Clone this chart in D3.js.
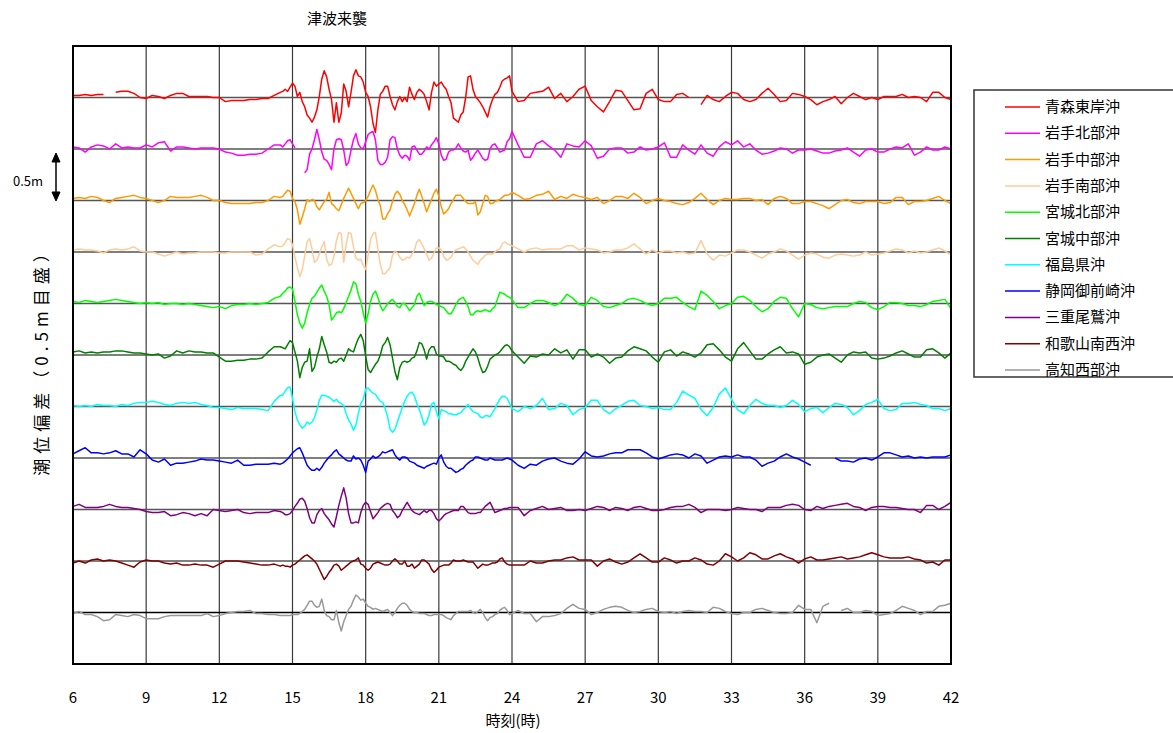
<!DOCTYPE html>
<html>
<head>
<meta charset="utf-8">
<script src="https://cdn.jsdelivr.net/npm/d3@7"></script>
<style>
  body { margin: 0; background: #fff; }
  text { font-family: "Noto Sans CJK JP", "Noto Sans", sans-serif; fill: #000; }
</style>
</head>
<body>
<div id="chart"></div>
<script>
// Time axis (hours). Finer sampling while the tsunami arrives.
const TIME_SEGMENTS = [[6, 14.5, 0.25], [14.6, 24, 0.1], [24.25, 42, 0.25]];
const times = [];
TIME_SEGMENTS.forEach(([from, to, step]) => {
    const n = Math.round((to - from) / step);
    for (let i = 0; i <= n; i++) times.push(+(from + i * step).toFixed(2));
});

const xTicks = [6, 9, 12, 15, 18, 21, 24, 27, 30, 33, 36, 39, 42];

const stations = ["青森東岸沖", "岩手北部沖", "岩手中部沖", "岩手南部沖", "宮城北部沖", "宮城中部沖",
                  "福島県沖", "静岡御前崎沖", "三重尾鷲沖", "和歌山南西沖", "高知西部沖"];
const colors = ["#ff0000", "#ff00ff", "#ff9900", "#ffcc99", "#00ff00", "#008000",
                "#00ffff", "#0000ff", "#800080", "#800000", "#999999"];

// Tide deviation (cm) of each station.
const aomori = [
    2,2,3,2,3,3,null,5,6,6,4,0,-1,2,1,-1,2,4,4,1,1,1,1,0,0,-4,-3,-3,-3,-2,-2,-1,-1,2,5,
    6,8,6,10,14,11,1,5,-4,-9, -17,-20,-24,-19,-12,1,18,26,20,8, -2,-24,-5,-24,-15,13,6,-9,5,21,
    27,21,20,15,5,1,-9,-25,-34,-12, 3,6,11,11,1,-7,-12,-4,1,-4, 0,-4,10,3,-2,5,8,6,3,-4,
    -12,5,15,11,13,15,11,8,1,-5, -20,-22,-24,-17,-14,0,20,21,8,1, -2,-5,-9,-14,-19,-9,-2,3,5,10, 16,18,19,21,6,
    -4,-3,4,5,6,10,-1,4,-4,1, 8,11,-3,-9,-14,-4,7,6,-3,-12, -11,4,8,-2,-4,-4,3,4,0,null,
    -7,2,-2,-4,1,5,4,-2,-4,-2, 4,9,3,-4,-3,4,3,1,-2,-7, -4,-2,1,-6,0,4,1,-2,0,-2, 1,1,1,3,0,1,0,-4,5,5, 0,-2
];
const iwateNorth = [
    2,1,-3,2,4,3,0,5,1,2,1,1,4,2,6,7,-2,2,2,1,0,1,1,1,0,-3,-4,-6,-6,-5,-5,-4,0,4,4,
    2,5,8,9,5,1,null,null,null,-23, -20,-5,0,9,19,9,-3,-10,-11,-15, -20,0,9,10,9,-1,-16,-13,-1,9,
    15,5,1,0,7,14,16,17,9,-11, -15,-15,-13,-8,9,12,11,0,-6,-9, -6,-7,-11,2,3,-1,-5,-5,-2,2,
    0,4,7,11,5,-6,-11,-10,-3,-1, -1,1,5,1,-2,-3,-1,-11,-8,-4, -1,-5,-9,-11,-10,0,4,5,1,-3, -2,-1,7,10,17,
    4,-8,-8,5,8,3,-1,-8,5,3, 2,8,3,-9,-7,0,1,1,-4,-3, 2,-1,0,2,6,-8,-8,4,-1,-5,
    4,-4,-7,2,7,4,8,2,5,-1, -5,-4,-2,1,0,-4,-1,-1,0,-2, -4,-4,-2,-1,1,-3,-7,-1,0,-3, -3,0,2,1,5,-6,-3,2,-1,-1, 2,0
];
const iwateMid = [
    2,3,2,4,3,0,-2,2,3,4,5,3,2,0,-2,0,4,3,3,3,4,5,3,0,0,-2,-3,-3,-3,-3,-2,-2,0,4,3,
    4,7,10,9,2,-1,-9,-23,-16,-8, 1,-1,1,0,-6,-9,-5,-1,1,8, -3,-5,-8,-10,-4,2,7,12,7,2,
    -3,-8,-3,-2,0,4,10,15,10,1, -5,-18,-18,-13,-9,-1,6,9,6,0, -4,-9,-15,-9,-3,5,11,4,-3,-11,
    -5,1,7,11,4,-6,-13,-11,-8,-3, 1,5,5,5,2,-1,-3,-3,-3,-1, -14,-11,-3,5,4,-3,-3,-1,0,1, 3,5,5,6,8,
    5,1,2,5,6,9,1,4,2,6, 4,3,1,3,-3,0,4,4,2,7, 3,-3,0,2,0,-1,-3,-4,-2,2,
    7,1,-4,0,2,1,1,2,2,0, 1,-4,2,4,2,-3,-3,-1,-1,-3, -5,-8,-4,0,1,-2,-3,-1,-1,-1, -3,-2,3,3,-4,-1,-1,0,2,4, 0,-3
];
const iwateSouth = [
    2,3,2,2,1,-1,2,3,2,3,5,1,0,0,-2,-4,-2,0,-2,-1,-1,0,0,0,-1,-1,0,0,0,0,-3,-2,3,7,5,
    6,9,13,12,7,-5,-15,-24,-17,-4, 10,13,3,-10,-8,-2,5,10,-7,-13, -12,-4,11,19,18,-10,7,19,18,5,
    -6,-8,-7,-13,-17,-3,12,18,19,3, -12,-21,-21,-18,-15,-3,1,-1,-5,-8, -7,-5,-6,-2,2,10,12,8,3,-2,
    -8,-6,-1,4,4,2,-4,-8,-7,-5, 0,2,3,4,5,3,0,-4,-8,-10, -12,-8,-6,-3,-2,-2,-2,0,2,3, 8,10,8,7,6,
    3,0,3,4,2,3,3,3,6,6, 2,4,3,2,-1,0,2,2,4,8, 3,-2,2,-1,1,1,-1,0,-2,-1,
    11,-2,-8,-3,-4,-1,2,2,0,-3, -6,-2,0,3,1,-3,-7,-3,-1,-2, -5,-6,-3,-2,-3,-4,-3,0,-3,-2, -1,1,3,2,-1,1,-1,0,2,4, 1,-3
];
const miyagiNorth = [
    2,1,3,2,1,2,3,4,3,2,1,0,1,0,1,-1,0,0,-1,0,-1,-2,-3,-4,-3,-5,-2,-1,-1,0,-1,0,1,5,7,
    10,12,15,16,14,2,-11,-19,-24,-19, -9,-1,5,7,11,15,18,12,7,-1, -16,-13,-9,-8,-9,-5,1,7,13,21,
    19,9,2,-9,-19,-10,2,9,12,6, -2,-7,-4,0,2,4,1,-3,-4,0, 0,-3,-7,-4,-1,7,10,4,-2,1,
    2,2,1,-1,-2,-3,-4,-7,-10,-10, -6,-1,3,5,6,2,-3,-11,-11,-8, -7,-8,-7,-6,-7,-8,-5,-3,4,11, 10,9,7,6,4,
    -4,-4,0,3,3,1,-2,1,9,5, -1,-2,6,3,-3,-4,-2,0,4,5, 3,0,-2,0,5,5,6,1,-3,-6,
    12,8,2,-5,-2,0,6,7,3,-3, -8,-5,2,6,5,-5,-13,0,-1,-4, -5,-4,-3,-3,-3,0,2,1,-4,-6, -3,1,1,0,-2,-2,-3,-1,2,3, 4,-5
];
const miyagiMid = [
    3,4,2,3,2,3,3,4,4,3,2,2,1,0,1,-3,-1,4,2,4,3,3,2,2,-2,-6,-6,-5,-5,-4,-4,-3,3,8,8,
    7,6,10,14,12,3,-6,-22,-12,-7, -6,6,-16,-12,-2,6,18,10,3,-7, -8,-6,-7,-4,-3,-6,0,6,4,3,
    10,16,20,14,-1,-14,-17,-13,-9,-6, 0,9,12,17,10,-3,-16,-24,-12,-7, -6,-7,-6,-3,-2,4,12,11,5,-4,
    5,8,8,1,-1,-1,-2,-6,-6,-7, -9,-10,-13,-15,-12,-6,-2,2,6,3, -3,-11,-17,-16,-11,-4,-2,0,1,3, 6,9,10,8,4,
    -2,-8,-1,-2,1,0,6,2,5,-4, 5,5,-2,1,-2,-8,-3,-2,4,8, 6,4,-2,-7,3,5,-1,3,1,-2,
    2,10,11,5,-2,-6,6,12,4,-4, -4,1,5,8,2,3,1,-9,-7,-2, 0,1,-3,-7,0,3,2,3,-3,-4, -3,-1,2,4,1,-2,-2,5,6,2, -3,2
];
const fukushima = [
    1,0,1,0,2,1,1,0,2,1,3,4,4,5,4,2,1,3,4,3,4,2,1,-1,-1,-2,-3,-1,-2,-2,-2,-3,-4,5,11,
    11,15,18,19,8,-5,-13,-18,-21,-19, -15,-17,-15,-11,-3,6,11,11,10,9, 7,5,7,4,3,1,-7,-13,-17,-23,
    -18,-7,3,7,17,18,15,13,12,8, 5,4,-2,-10,-22,-25,-22,-15,-8,-1, 5,10,13,14,10,3,-3,-10,-18,-15,
    -8,2,4,-5,-12,-3,-4,-5,-7,-7, -8,-8,-7,-6,-3,-1,2,-2,-5,-6, -7,-10,-11,-9,-9,-10,-6,-2,3,7, 10,10,8,3,-2,
    -5,0,-2,1,8,-3,-2,3,1,-8, -3,-1,6,6,-3,-7,-2,1,5,6, 1,0,-2,-1,-3,-3,4,15,11,8,
    -3,-9,-1,12,18,7,-3,-7,1,7, 3,1,1,-1,1,6,2,-5,-2,-1, -6,-1,3,2,-1,-8,-4,2,4,7, -2,-4,-3,3,3,4,2,1,-2,-2, -4,-2
];
const omaezaki = [
    4,7,10,5,5,4,5,7,4,4,1,8,4,-2,-4,-1,-7,-5,-5,-4,-3,-1,-2,-2,-3,-4,-5,-2,-7,-7,-6,-6,-6,-5,-6,
    -5,-3,-1,2,5,7,9,10,5,-1, -7,-10,-12,-12,-10,-12,-9,-5,-2,1, 3,6,8,4,2,0,-2,-3,-3,2,
    -1,0,-2,-7,-14,-3,-1,2,0,1, 3,6,5,6,7,8,3,0,-2,1, 1,0,-3,-4,-5,-7,-8,-9,-10,-8,
    -7,-6,-5,-6,0,3,-4,-8,-10,-10, -12,-14,-13,-11,-10,-7,-5,-3,-2,1, 1,0,-1,-2,-2,0,-1,-2,-2,-2, -2,-1,0,-1,-2,
    -7,-10,-6,-7,-3,-1,0,-3,-5,-6, -1,6,2,1,2,4,5,5,8,8, 8,5,1,-1,1,3,4,3,0,4,
    2,-5,-2,1,2,1,3,1,1,-2, -8,-5,-3,1,4,1,-1,-4,-7,null, null,null,0,-3,-3,-4,-1,0,-2,1, 5,5,3,1,2,0,1,0,1,1, 1,3
];
const owase = [
    3,5,2,2,2,3,5,3,2,2,1,0,-2,-3,-3,-2,-6,-5,-3,-4,-6,-4,-6,0,-1,-2,-1,0,-3,-4,-3,-3,-3,-1,-2,
    -3,-5,-5,-4,-1,3,6,10,11,8, 1,-8,-13,-13,-5,-1,1,-4,-7,-10, -14,-17,-7,4,13,21,11,-4,-13,-13,
    -12,-13,-3,4,7,5,-2,-9,-6,-3, 1,3,5,6,5,-1,-4,-8,-6,-1, 3,7,3,-1,-3,-4,-5,-3,-1,-3,
    -1,-1,-4,-9,-11,-9,-6,-4,-3,-2, -1,-1,-1,3,3,0,-3,-4,-4,-4, -3,-3,0,3,5,7,2,-3,-2,-1, 0,1,1,2,2,
    2,-6,-1,1,3,0,1,2,-1,-1, 0,-1,1,3,2,-1,2,1,-1,2, 3,1,-1,-1,0,2,3,3,5,2,
    -3,0,0,0,-1,0,2,1,0,0, -2,2,2,2,4,5,4,0,-1,3, 1,3,4,5,6,3,2,-1,2,3, 3,2,2,1,0,0,-3,4,4,0, 3,7
];
const wakayama = [
    -2,0,-2,1,2,0,1,0,-2,-4,-6,-1,1,0,0,-2,-3,-2,-4,-4,-3,-4,-4,-6,-3,0,0,0,-1,-2,-3,-4,-4,-3,-5,
    -4,-5,-5,-6,-4,-3,-1,1,3,5, 6,4,2,0,-3,-8,-13,-18,-15,-11, -8,-4,-3,-5,-9,-7,-5,-3,-1,0,
    1,3,-3,-4,-7,-9,-7,-3,-2,-1, -2,-3,-4,-4,-3,0,2,0,-3,-3, 0,-5,-5,-3,-7,-5,-3,1,1,-1,
    -3,-8,-11,-9,-6,-5,-4,-4,-4,-2, 1,0,0,0,1,0,-1,-1,-1,-4, -7,-5,-3,-4,-4,-3,-2,-2,-1,2, 3,-1,-3,-4,-4,
    -4,-4,0,-2,-2,0,1,1,3,4, 1,1,1,-5,0,2,-1,-3,-1,3, 7,3,-1,-1,3,1,-2,0,0,3,
    1,-3,-4,0,7,4,0,3,8,6, 2,2,5,7,4,2,-2,2,4,1, 1,2,3,4,2,3,4,6,8,6, 4,3,3,3,4,2,1,-2,-1,-4, 1,1
];
const kochi = [
    -1,1,-2,-2,-4,-8,-7,-2,-3,-4,-2,-3,-6,-6,-6,-4,-3,-3,-3,-3,-3,-3,-1,-4,-3,-1,0,1,1,2,-1,-1,-2,-2,-3,
    -3,-3,-3,-3,-2,-2,-2,-1,1,3, 7,11,11,7,5,6,13,2,-3,-4, -7,-7,2,-10,-18,-9,-3,3,6,12,
    17,15,12,13,9,6,5,3,4,3, 2,1,2,3,0,-3,0,4,7,9, 9,7,3,1,0,0,-1,-1,-1,-2,
    -3,-3,-2,-2,-2,-2,-3,-5,-6,-7, -3,-1,1,1,1,1,1,2,0,-1, 1,3,0,-5,-8,-5,-4,-2,-1,2, 4,5,2,-2,-1,
    2,-1,-1,-9,-4,-4,-3,-1,4,8, 4,3,-2,0,3,5,6,5,2,0, 1,3,4,1,0,1,-1,1,2,1,
    1,0,5,4,1,-1,-2,0,0,3, 4,2,0,-1,-1,0,7,3,3,-10, 6,9,null,2,4,0,0,2,1,-3, -2,-1,2,6,4,2,-2,1,1,6, 7,9
];

const seriesValues = [aomori, iwateNorth, iwateMid, iwateSouth, miyagiNorth, miyagiMid,
                      fukushima, omaezaki, owase, wakayama, kochi];

// Each station is drawn on its own 0.5 m (50 cm) step.
const STEP = 50;
const series = stations.map((name, i) => ({
    name: name,
    color: colors[i],
    offset: (stations.length - i) * STEP,
    values: seriesValues[i]
}));

const w = 1173, h = 733;
const plot = { left: 73, right: 951, top: 46, bottom: 664 };

const svg = d3.select("#chart")
    .append("svg")
    .attr("width", w)
    .attr("height", h);

const xScale = d3.scaleLinear()
    .domain([6, 42])
    .range([plot.left, plot.right]);

const yScale = d3.scaleLinear()
    .domain([0, (stations.length + 1) * STEP])
    .range([plot.bottom, plot.top]);

// Vertical grid lines every 3 hours.
svg.append("g")
    .selectAll("line")
    .data(xTicks.slice(1, -1))
    .enter()
    .append("line")
    .attr("x1", d => xScale(d))
    .attr("x2", d => xScale(d))
    .attr("y1", plot.top)
    .attr("y2", plot.bottom)
    .attr("stroke", "#3a3a3a")
    .attr("stroke-width", 1.2);

// Baselines of every station.
svg.append("g")
    .selectAll("line")
    .data(series)
    .enter()
    .append("line")
    .attr("x1", plot.left)
    .attr("x2", plot.right)
    .attr("y1", d => yScale(d.offset))
    .attr("y2", d => yScale(d.offset))
    .attr("stroke", (d, i) => i === series.length - 1 ? "#000" : "#555")
    .attr("stroke-width", 1.6);

// The records themselves.
const line = d3.line()
    .defined(d => d[1] !== null)
    .x(d => xScale(d[0]))
    .y(d => yScale(d[1]));

svg.append("g")
    .selectAll("path")
    .data(series)
    .enter()
    .append("path")
    .attr("fill", "none")
    .attr("stroke", d => d.color)
    .attr("stroke-width", 1.5)
    .attr("stroke-linejoin", "round")
    .attr("d", d => line(times.map((t, j) => [t, d.values[j] === null ? null : d.offset + d.values[j]])));

// Plot frame.
svg.append("rect")
    .attr("x", plot.left)
    .attr("y", plot.top)
    .attr("width", plot.right - plot.left)
    .attr("height", plot.bottom - plot.top)
    .attr("fill", "none")
    .attr("stroke", "#000")
    .attr("stroke-width", 2);

// X tick labels.
svg.append("g")
    .selectAll("text")
    .data(xTicks)
    .enter()
    .append("text")
    .text(d => d)
    .attr("x", d => xScale(d))
    .attr("y", 703)
    .attr("text-anchor", "middle")
    .attr("font-size", 15);

svg.append("text")
    .text("時刻(時)")
    .attr("x", 513)
    .attr("y", 726)
    .attr("text-anchor", "middle")
    .attr("font-size", 15);

svg.append("text")
    .text("津波来襲")
    .attr("x", 337)
    .attr("y", 24)
    .attr("text-anchor", "middle")
    .attr("font-size", 15);

svg.append("text")
    .text("潮位偏差（0.5m目盛）")
    .attr("transform", "translate(48,358) rotate(-90)")
    .attr("text-anchor", "middle")
    .attr("letter-spacing", 5)
    .attr("font-size", 17);

// 0.5 m scale marker.
svg.append("text")
    .text("0.5m")
    .attr("x", 28)
    .attr("y", 186)
    .attr("text-anchor", "middle")
    .attr("font-size", 13);

const marker = svg.append("g").attr("stroke", "#000").attr("fill", "#000");
marker.append("line").attr("x1", 56).attr("x2", 56).attr("y1", 158).attr("y2", 196).attr("stroke-width", 1.5);
marker.append("path").attr("d", "M52,162 L56,153 L60,162 Z");
marker.append("path").attr("d", "M52,192 L56,201 L60,192 Z");

// Legend.
const legend = svg.append("g").attr("transform", "translate(974,90)");
legend.append("rect")
    .attr("width", 230)
    .attr("height", 287)
    .attr("fill", "#fff")
    .attr("stroke", "#333")
    .attr("stroke-width", 1.5);

const items = legend.selectAll("g.item")
    .data(series)
    .enter()
    .append("g")
    .attr("class", "item")
    .attr("transform", (d, i) => `translate(0,${17 + i * 26.3})`);

items.append("line")
    .attr("x1", 31)
    .attr("x2", 66)
    .attr("stroke", d => d.color)
    .attr("stroke-width", 1.5);

items.append("text")
    .text(d => d.name)
    .attr("x", 71)
    .attr("y", 5)
    .attr("font-size", 15);
</script>
</body>
</html>
